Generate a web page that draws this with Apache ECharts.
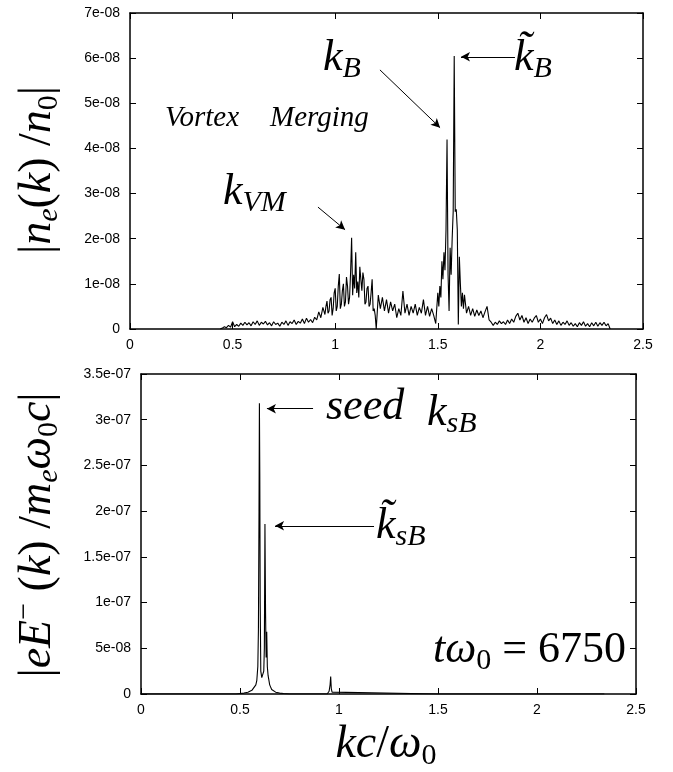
<!DOCTYPE html>
<html>
<head>
<meta charset="utf-8">
<script src="https://cdn.jsdelivr.net/npm/echarts@6/dist/echarts.min.js"></script>
<style>html,body{margin:0;padding:0;background:#fff;}#c{width:673px;height:772px;}</style>
</head>
<body>
<div id="c"></div>
<script>
// x tick labels (kc/omega0)
const xTickLabels = ['0', '0.5', '1', '1.5', '2', '2.5'];
// y tick labels, top panel (values in units of 1e-8)
const yTopTickLabels = ['0', '1e-08', '2e-08', '3e-08', '4e-08', '5e-08', '6e-08', '7e-08'];
// y tick labels, bottom panel (values in units of 1e-8)
const yBotTickLabels = ['0', '5e-08', '1e-07', '1.5e-07', '2e-07', '2.5e-07', '3e-07', '3.5e-07'];

// Top panel: |n_e(k)/n_0|, in units of 1e-8
const kTop = [
  0.44,0.45,0.46,0.47,0.48,0.49,0.50,0.51,0.52,0.53,0.54,0.55,0.56,0.57,0.58,0.59,0.60,0.61,0.62,0.63,
  0.64,0.65,0.66,0.67,0.68,0.69,0.70,0.71,0.72,0.73,0.74,0.75,0.76,0.77,0.78,0.79,0.80,0.81,0.82,0.83,
  0.84,0.85,0.86,0.87,0.88,0.89,0.90,0.91,0.92,0.93,0.94,
  0.950,0.955,0.960,0.965,0.970,0.975,0.980,0.985,0.990,0.995,1.000,1.005,1.010,1.015,1.020,1.025,1.030,1.035,1.040,1.045,
  1.050,1.055,1.060,1.065,1.070,1.075,1.080,1.085,1.090,1.095,1.100,1.105,1.110,1.115,1.120,1.125,1.130,1.135,1.140,1.145,
  1.150,1.155,1.160,1.165,1.170,1.175,1.180,1.185,1.190,1.195,1.200,
  1.21,1.22,1.23,1.24,1.25,1.26,1.27,1.28,1.29,1.30,1.31,1.32,1.33,1.34,1.35,1.36,1.37,1.38,1.39,1.40,
  1.41,1.42,1.43,1.44,1.45,1.46,1.47,1.48,1.49,
  1.50,1.505,1.51,1.515,1.52,1.525,1.53,1.535,1.54,1.545,1.55,1.555,1.56,1.565,1.57,1.575,1.58,1.585,1.59,1.595,
  1.60,1.605,1.61,1.615,1.62,1.625,1.63,
  1.64,1.65,1.66,1.67,1.68,1.69,1.70,1.71,1.72,1.73,1.74,1.75,1.76,1.77,1.78,1.79,1.80,1.81,1.82,1.83,
  1.84,1.85,1.86,1.87,1.88,1.89,1.90,1.91,1.92,1.93,1.94,1.95,1.96,1.97,1.98,1.99,2.00,2.01,2.02,2.03,
  2.04,2.05,2.06,2.07,2.08,2.09,2.10,2.11,2.12,2.13,2.14,2.15,2.16,2.17,2.18,2.19,2.20,2.21,2.22,2.23,
  2.24,2.25,2.26,2.27,2.28,2.29,2.30,2.31,2.32,2.33,2.34
];
const neTop = [
  0.00,0.02,0.05,0.03,0.08,0.04,0.16,0.05,0.10,0.06,0.13,0.08,0.15,0.09,0.14,0.07,0.16,0.10,0.18,0.08,
  0.15,0.11,0.17,0.09,0.14,0.07,0.16,0.10,0.13,0.06,0.15,0.10,0.18,0.08,0.16,0.12,0.20,0.10,0.17,0.13,
  0.22,0.12,0.24,0.15,0.21,0.14,0.26,0.20,0.38,0.25,0.48,
  0.32,0.50,0.62,0.35,0.40,0.65,0.70,0.30,0.45,0.80,0.90,0.40,0.50,0.95,1.22,0.45,0.55,0.85,1.00,0.50,
  0.60,1.15,0.95,0.55,0.70,1.25,2.02,0.75,1.20,0.90,1.70,0.80,1.05,0.70,1.38,1.10,0.85,1.25,1.10,0.55,
  0.60,0.90,0.95,0.50,0.55,0.80,1.10,0.40,0.45,0.30,0.00,
  0.75,0.45,0.70,0.40,0.65,0.35,0.60,0.40,0.55,0.25,0.45,0.30,0.84,0.35,0.55,0.30,0.50,0.35,0.55,0.30,
  0.48,0.35,0.65,0.30,0.50,0.28,0.45,0.30,0.12,
  0.80,0.50,0.95,0.70,1.50,1.10,1.70,1.30,2.20,4.20,1.20,0.40,1.80,1.20,2.00,2.60,6.05,2.60,2.65,2.20,
  0.10,1.60,1.00,0.50,0.80,0.45,0.76,
  0.35,0.50,0.30,0.45,0.28,0.42,0.30,0.40,0.25,0.38,0.50,0.20,0.15,0.08,0.15,0.10,0.18,0.12,0.16,0.10,
  0.20,0.12,0.22,0.15,0.28,0.35,0.20,0.30,0.15,0.25,0.12,0.22,0.15,0.24,0.30,0.15,0.22,0.12,0.25,0.32,
  0.18,0.24,0.12,0.20,0.10,0.18,0.08,0.15,0.10,0.18,0.08,0.14,0.06,0.12,0.05,0.14,0.08,0.16,0.06,0.12,
  0.05,0.14,0.07,0.15,0.06,0.14,0.08,0.15,0.07,0.12,0.00
];

// Bottom panel: |eE^-(k)/m_e w0 c|, in units of 1e-8
const kBot = [0.00,0.30,0.48,0.50,0.52,0.54,0.56,0.57,0.58,0.585,0.59,0.593,0.596,0.598,0.600,0.602,0.605,0.61,0.615,0.62,0.623,0.626,0.629,0.632,0.635,0.638,0.642,0.65,0.66,0.67,0.68,0.70,0.72,0.75,0.94,0.95,0.955,0.958,0.961,0.965,0.975,1.50,2.34];
const eBot = [0,0,0,0.05,0.1,0.2,0.4,0.6,1.0,1.5,3.0,7.0,20,31.8,24,10,2.5,1.8,2.0,2.5,5,18.6,9,4,6.8,3,2.0,1.0,0.5,0.3,0.2,0.1,0.05,0,0,0.3,1.0,1.9,0.6,0.2,0,0,0];

const topData = kTop.map((k, i) => [k, neTop[i]]);
const botData = kBot.map((k, i) => [k, eBot[i]]);

const SERIF = '"Liberation Serif", "DejaVu Serif", serif';
const SANS = '"Liberation Sans", Arial, sans-serif';
const axisCol = '#000';

function xAx(grid, pos, labels) {
  return {
    type: 'value', gridIndex: grid, position: pos, min: 0, max: 2.5, interval: 0.5,
    axisLine: { show: true, onZero: false, lineStyle: { color: axisCol, width: 1.5 } },
    axisTick: { show: true, inside: true, length: 6, lineStyle: { color: axisCol, width: 1 } },
    axisLabel: { show: labels, margin: 9, color: '#000', fontFamily: SANS, fontSize: 14,
      formatter: v => xTickLabels[Math.round(v / 0.5)] },
    splitLine: { show: false }
  };
}
function yAx(grid, pos, labels, max, step, arr) {
  return {
    type: 'value', gridIndex: grid, position: pos, min: 0, max: max, interval: step,
    axisLine: { show: true, onZero: false, lineStyle: { color: axisCol, width: 1.5 } },
    axisTick: { show: true, inside: true, length: 6, lineStyle: { color: axisCol, width: 1 } },
    axisLabel: { show: labels, margin: 10, color: '#000', fontFamily: SANS, fontSize: 14,
      formatter: v => arr[Math.round(v / step)] },
    splitLine: { show: false }
  };
}

const rich = {
  m: { fontFamily: SERIF, fontSize: 46, fill: '#000', color: '#000' },
  i: { fontFamily: SERIF, fontSize: 46, fontStyle: 'italic', fill: '#000', color: '#000' },
  s: { fontFamily: SERIF, fontSize: 30, fontStyle: 'italic', fill: '#000', color: '#000', lineHeight: 30, padding: [22, 0, 0, 0] },
  s0: { fontFamily: SERIF, fontSize: 30, fill: '#000', color: '#000', lineHeight: 30, padding: [22, 0, 0, 0] },
  sp: { fontFamily: SERIF, fontSize: 30, fill: '#000', color: '#000', lineHeight: 30, padding: [0, 0, 26, 0] },
  a: { fontFamily: SERIF, fontSize: 44, fontStyle: 'italic', fill: '#000', color: '#000' },
  as: { fontFamily: SERIF, fontSize: 30, fontStyle: 'italic', fill: '#000', color: '#000', lineHeight: 30, padding: [22, 0, 0, 0] },
  x: { fontFamily: SERIF, fontSize: 46, fontStyle: 'italic', fill: '#000', color: '#000' },
  xm: { fontFamily: SERIF, fontSize: 46, fill: '#000', color: '#000' },
  xs: { fontFamily: SERIF, fontSize: 30, fill: '#000', color: '#000', lineHeight: 30, padding: [22, 0, 0, 0] },
  b: { fontFamily: SERIF, fontSize: 44, fill: '#000', color: '#000' },
  bi: { fontFamily: SERIF, fontSize: 44, fontStyle: 'italic', fill: '#000', color: '#000' },
  bs: { fontFamily: SERIF, fontSize: 30, fill: '#000', color: '#000', lineHeight: 30, padding: [22, 0, 0, 0] },
  v: { fontFamily: SERIF, fontSize: 29, fontStyle: 'italic', fill: '#000', color: '#000' }
};

function txt(x, y, text, align, rot) {
  return { type: 'text', x: x, y: y, rotation: rot || 0, silent: true,
    style: { text: text, rich: rich, align: align || 'left', verticalAlign: 'middle', fill: '#000' } };
}

const arrowStyle = { color: '#000', width: 1, type: 'solid' };
function arrow(x1, y1, x2, y2) {
  return [{ coord: [x1, y1] }, { coord: [x2, y2] }];
}

const chart = echarts.init(document.getElementById('c'), null, { renderer: 'canvas' });
chart.setOption({
  animation: false,
  backgroundColor: '#fff',
  grid: [
    { left: 130, top: 13, width: 513, height: 316, containLabel: false },
    { left: 141, top: 374, width: 495, height: 320, containLabel: false }
  ],
  xAxis: [xAx(0, 'bottom', true), xAx(0, 'top', false), xAx(1, 'bottom', true), xAx(1, 'top', false)],
  yAxis: [
    yAx(0, 'left', true, 7, 1, yTopTickLabels), yAx(0, 'right', false, 7, 1, yTopTickLabels),
    yAx(1, 'left', true, 35, 5, yBotTickLabels), yAx(1, 'right', false, 35, 5, yBotTickLabels)
  ],
  series: [
    {
      type: 'line', xAxisIndex: 0, yAxisIndex: 0, data: topData, showSymbol: false, symbol: 'none',
      lineStyle: { color: '#000', width: 1.1 }, silent: true,
      markLine: {
        silent: true, symbol: ['none', 'arrow'], symbolSize: [7, 9], label: { show: false },
        lineStyle: arrowStyle,
        data: [arrow(0.916, 2.7, 1.048, 2.2), arrow(1.218, 5.74, 1.511, 4.46), arrow(1.876, 6.03, 1.613, 6.03)]
      }
    },
    {
      type: 'line', xAxisIndex: 2, yAxisIndex: 2, data: botData, showSymbol: false, symbol: 'none',
      lineStyle: { color: '#000', width: 1.1 }, silent: true,
      markLine: {
        silent: true, symbol: ['none', 'arrow'], symbolSize: [7, 9], label: { show: false },
        lineStyle: arrowStyle,
        data: [arrow(0.869, 31.2, 0.636, 31.2), arrow(1.177, 18.4, 0.677, 18.4)]
      }
    }
  ],
  graphic: [
    txt(38, 170, '{m||}{i|n}{s|e}{m|(}{i|k}{m|) /}{i|n}{s0|0}{m||}', 'center', Math.PI / 2),
    txt(38, 535, '{m||}{i|eE}{sp|\u2212}{m| (}{i|k}{m|) /}{i|m}{s|e}{i|\u03c9}{s0|0}{i|c}{m||}', 'center', Math.PI / 2),
    txt(386, 745, '{x|kc}{xm|/}{x|\u03c9}{xs|0}', 'center'),
    txt(165, 118, '{v|Vortex}', 'left'),
    txt(270, 118, '{v|Merging}', 'left'),
    txt(223, 192, '{a|k}{as|VM}', 'left'),
    txt(323, 58, '{a|k}{as|B}', 'left'),
    txt(514, 58, '{a|k\u0303}{as|B}', 'left'),
    txt(326, 407, '{a|seed}', 'left'),
    txt(427, 413, '{a|k}{as|sB}', 'left'),
    txt(376, 526, '{a|k\u0303}{as|sB}', 'left'),
    txt(433, 650, '{bi|t\u03c9}{bs|0}{b| = 6750}', 'left')
  ]
});
</script>
</body>
</html>
